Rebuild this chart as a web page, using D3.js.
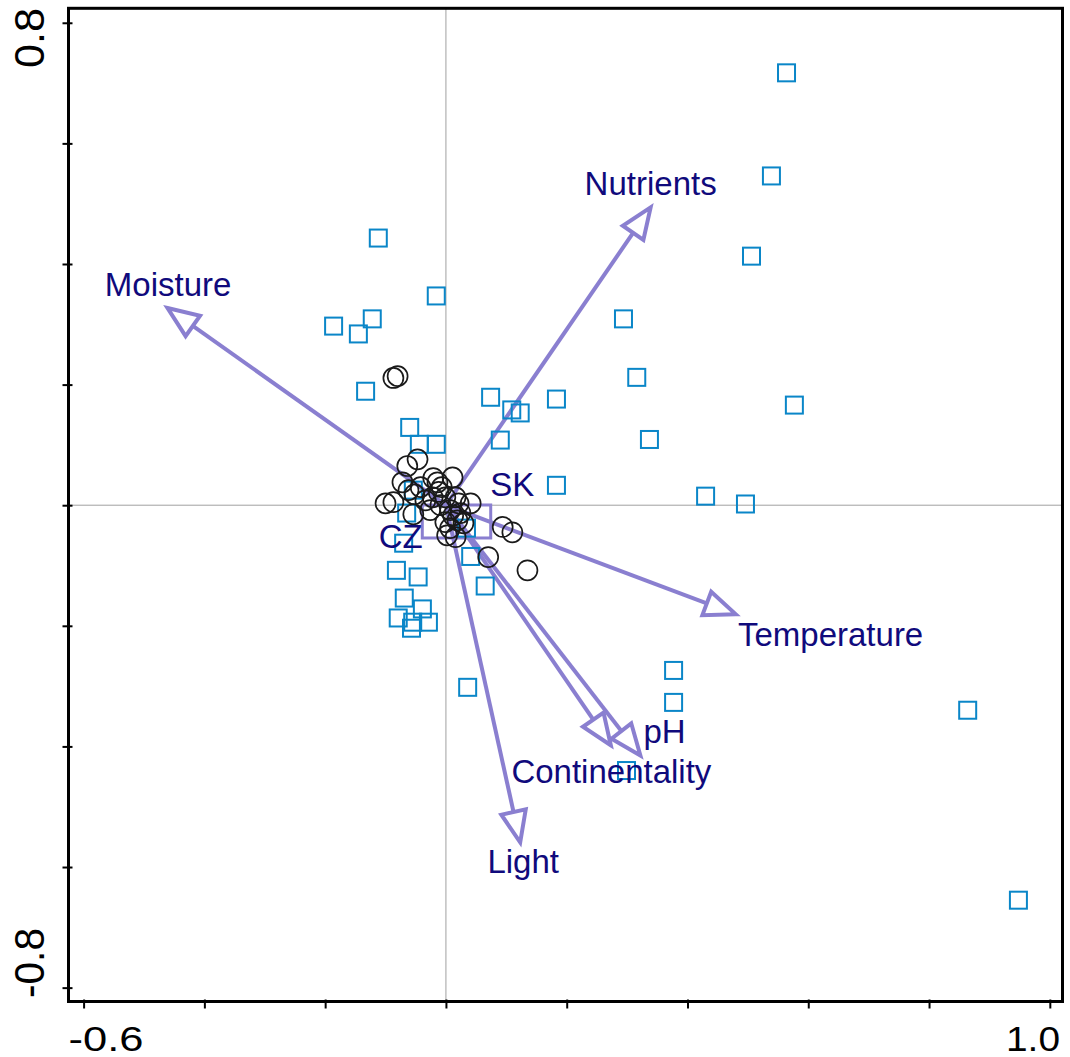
<!DOCTYPE html>
<meta charset="utf-8">
<script src="https://cdn.jsdelivr.net/npm/d3@7"></script>
<style>
  body { margin: 0; background: #fff; }
  text { font-family: Arial, "Liberation Sans", sans-serif; }
  .zero { stroke: #a0a0a0; stroke-width: 1px; }
  .arrow { fill: none; stroke: #8a7fd0; stroke-width: 4px; stroke-linejoin: miter; }
  .sample { fill: none; stroke: #0a86c8; stroke-width: 2px; }
  .site { fill: none; stroke: #1a1a1a; stroke-width: 1.7px; }
  .centroid { fill: none; stroke: #8a7fd0; stroke-width: 3px; }
  .lab { fill: #100a7c; font-size: 33px; }
</style>
<body>
<script>

// environmental variables: arrow tip and label position (ordination units)
var envNames = ["Moisture", "Nutrients", "Temperature", "pH", "Continentality", "Light"];
var envX     = [-0.461, 0.339, 0.480, 0.322, 0.273, 0.123];
var envY     = [ 0.327, 0.494, -0.181, -0.415, -0.398, -0.559];
var envLabX  = [-0.460, 0.339, 0.637, 0.362, 0.274, 0.128];
var envLabY  = [ 0.347, 0.514, -0.234, -0.395, -0.461, -0.610];

// country centroids
var cenNames = ["CZ", "SK"];
var cenX     = [-0.011, 0.046];
var cenY     = [-0.027, -0.027];
var cenLabX  = [-0.075, 0.110];
var cenLabY  = [-0.071, 0.015];

// species / relevés shown as squares
var sqX = [0.564, 0.539, 0.506, -0.112, -0.016, -0.186, -0.145, -0.122, 0.294, 0.316,
           -0.133, 0.074, 0.183, 0.109, 0.123, 0.577, -0.060, -0.044, -0.016, 0.090,
           0.337, 0.183, 0.430, 0.496, -0.054, -0.065, -0.070, -0.082, -0.046, -0.069,
           -0.079, -0.055, -0.039, -0.029, -0.057, 0.065, 0.041, 0.034, 0.036, 0.377,
           0.377, 0.299, 0.864, 0.948];
var sqY = [0.717, 0.546, 0.413, 0.443, 0.347, 0.297, 0.284, 0.309, 0.309, 0.212,
           0.189, 0.179, 0.176, 0.158, 0.153, 0.166, 0.129, 0.101, 0.101, 0.108,
           0.109, 0.033, 0.015, 0.002, 0.025, -0.013, -0.063, -0.108, -0.119, -0.154,
           -0.187, -0.194, -0.172, -0.194, -0.204, -0.134, -0.085, -0.038, -0.302, -0.274,
           -0.327, -0.440, -0.340, -0.655];

// circles
var ciX = [-0.087, -0.080, -0.047, -0.064, -0.072, -0.087, -0.100, -0.062, -0.052, -0.042,
           -0.021, -0.014, -0.007, 0.011, -0.012, -0.001, 0.016, 0.021, -0.026, -0.054,
           0.007, 0.041, 0.012, 0.024, -0.001, 0.007, 0.016, 0.002, 0.029, 0.094,
           0.110, 0.070, 0.135, -0.034, -0.022, -0.009, 0.019];
var ciY = [0.211, 0.214, 0.076, 0.065, 0.038, 0.005, 0.003, 0.025, 0.018, 0.030,
           0.045, 0.038, 0.030, 0.046, 0.022, 0.013, 0.013, 0.003, -0.008, -0.015,
           -0.008, 0.003, -0.017, -0.013, -0.028, -0.038, -0.053, -0.050, -0.030, -0.036,
           -0.045, -0.086, -0.108, 0.008, 0.013, 0.000, -0.025];

var xTicks = [-0.6, -0.4, -0.2, 0, 0.2, 0.4, 0.6, 0.8, 1.0];
var yTicks = [-0.8, -0.6, -0.4, -0.2, 0, 0.2, 0.4, 0.6, 0.8];

var width = 1070, height = 1057;
var pLeft = 68.5, pRight = 1062.5, pTop = 8.3, pBottom = 1001.5;

var x = d3.scaleLinear().domain([-0.625, 1.021]).range([pLeft, pRight]);
var y = d3.scaleLinear().domain([-0.823, 0.824]).range([pBottom, pTop]);

var svg = d3.select("body").append("svg")
    .attr("width", width)
    .attr("height", height);

// zero lines
svg.append("line").attr("class", "zero")
    .attr("x1", pLeft).attr("x2", pRight).attr("y1", y(0)).attr("y2", y(0));
svg.append("line").attr("class", "zero")
    .attr("x1", x(0)).attr("x2", x(0)).attr("y1", pTop).attr("y2", pBottom);

// axes (ticks only, labels at ends)
svg.append("g")
    .attr("transform", "translate(0," + pBottom + ")")
    .call(d3.axisBottom(x).tickValues(xTicks).tickSize(7).tickFormat(""))
    .call(function(g) {
      g.select(".domain").remove();
      g.selectAll(".tick line").attr("stroke", "#000").attr("stroke-width", 2).attr("y1", -2);
    });
svg.append("g")
    .attr("transform", "translate(" + pLeft + ",0)")
    .call(d3.axisLeft(y).tickValues(yTicks).tickSize(6).tickFormat(""))
    .call(function(g) {
      g.select(".domain").remove();
      g.selectAll(".tick line").attr("stroke", "#000").attr("stroke-width", 2).attr("x1", 4);
    });

svg.append("rect")
    .attr("x", pLeft).attr("y", pTop)
    .attr("width", pRight - pLeft).attr("height", pBottom - pTop)
    .attr("fill", "none").attr("stroke", "#000").attr("stroke-width", 3);

// end labels
svg.append("text").attr("x", pLeft).attr("y", 1051)
    .attr("font-size", 35).attr("textLength", 75).attr("lengthAdjust", "spacingAndGlyphs")
    .text("-0.6");
svg.append("text").attr("x", 1006).attr("y", 1051)
    .attr("font-size", 35).attr("textLength", 54).attr("lengthAdjust", "spacingAndGlyphs")
    .text("1.0");
svg.append("text").attr("transform", "translate(44," + 38 + ") rotate(-90)")
    .attr("text-anchor", "middle")
    .attr("font-size", 43).attr("textLength", 60).attr("lengthAdjust", "spacingAndGlyphs")
    .text("0.8");
svg.append("text").attr("transform", "translate(44," + 963 + ") rotate(-90)")
    .attr("text-anchor", "middle")
    .attr("font-size", 43).attr("textLength", 70).attr("lengthAdjust", "spacingAndGlyphs")
    .text("-0.8");

// arrows
var headLen = 31, headHalf = 12.5;
envNames.forEach(function(name, i) {
  var x0 = x(0), y0 = y(0), x1 = x(envX[i]), y1 = y(envY[i]);
  var dx = x1 - x0, dy = y1 - y0, len = Math.sqrt(dx * dx + dy * dy);
  var ux = dx / len, uy = dy / len;
  var bx = x1 - ux * headLen, by = y1 - uy * headLen;
  svg.append("line").attr("class", "arrow")
      .attr("x1", x0).attr("y1", y0).attr("x2", bx).attr("y2", by);
  svg.append("path").attr("class", "arrow")
      .attr("d", "M" + x1 + "," + y1 +
                 "L" + (bx - uy * headHalf) + "," + (by + ux * headHalf) +
                 "L" + (bx + uy * headHalf) + "," + (by - ux * headHalf) + "Z");
});

// centroids
svg.selectAll(".centroid")
    .data(cenNames)
    .enter().append("rect")
    .attr("class", "centroid")
    .attr("x", function(d, i) { return x(cenX[i]) - 17; })
    .attr("y", function(d, i) { return y(cenY[i]) - 16.5; })
    .attr("width", 34).attr("height", 33);

// squares
svg.selectAll(".sample")
    .data(sqX)
    .enter().append("rect")
    .attr("class", "sample")
    .attr("x", function(d) { return x(d) - 8.5; })
    .attr("y", function(d, i) { return y(sqY[i]) - 8.5; })
    .attr("width", 17).attr("height", 17);

// circles
svg.selectAll(".site")
    .data(ciX)
    .enter().append("circle")
    .attr("class", "site")
    .attr("cx", function(d) { return x(d); })
    .attr("cy", function(d, i) { return y(ciY[i]); })
    .attr("r", 10);

// labels
svg.selectAll(".envlab")
    .data(envNames)
    .enter().append("text")
    .attr("class", "lab")
    .attr("text-anchor", "middle")
    .attr("x", function(d, i) { return x(envLabX[i]); })
    .attr("y", function(d, i) { return y(envLabY[i]); })
    .text(function(d) { return d; });

svg.selectAll(".cenlab")
    .data(cenNames)
    .enter().append("text")
    .attr("class", "lab")
    .attr("text-anchor", "middle")
    .attr("x", function(d, i) { return x(cenLabX[i]); })
    .attr("y", function(d, i) { return y(cenLabY[i]); })
    .text(function(d) { return d; });

</script>
</body>
